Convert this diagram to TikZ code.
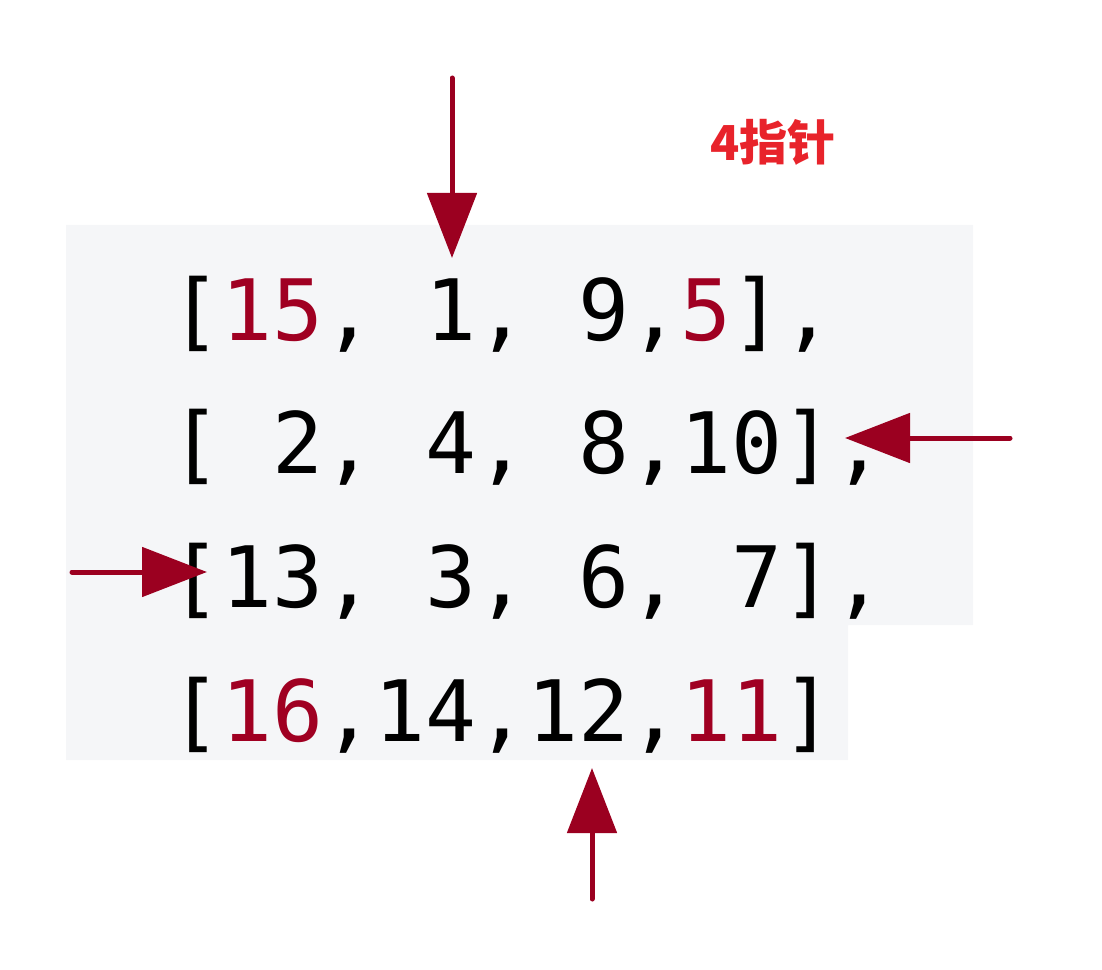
\documentclass[tikz,border=0pt]{standalone}
\usepackage{fontspec}
\usepackage[HTML]{xcolor}
\usepackage{tikz}
\usetikzlibrary{positioning, arrows, arrows.meta}
\newfontfamily\codefont{DejaVu Sans Mono}
\newfontfamily\cjk{Noto Sans CJK SC}
\definecolor{ptr}{HTML}{9B0020}
\definecolor{hl}{HTML}{A00022}
\definecolor{tag}{HTML}{E8232B}
\definecolor{codebg}{HTML}{F5F6F8}

\begin{document}
\begin{tikzpicture}[scale=1.0,
  row/.style={anchor=base west, inner sep=0pt, font=\codefont\fontsize{24.1}{29}\selectfont},
  ptrarrow/.style={-{Triangle[length=0.65cm,width=0.49cm]}, line width=0.05cm, line cap=round, color=ptr}]
\useasboundingbox (0,0) rectangle (11.02,9.69);
\fill[codebg] (0.66,7.44) -- (9.73,7.44) -- (9.73,3.44) -- (8.48,3.44) -- (8.48,2.09) -- (0.66,2.09) -- cycle;

\node[row] (r1) at (1.695,6.29) {[\textcolor{hl}{15}, 1, 9,\textcolor{hl}{5}],};
\node[row] (r2) at (1.695,4.95) {[ 2, 4, 8,10],};
\node[row] (r3) at (1.695,3.62) {[13, 3, 6, 7],};
\node[row] (r4) at (1.695,2.28) {[\textcolor{hl}{16},14,12,\textcolor{hl}{11}]};

\node[inner sep=0pt, text=tag, font=\cjk\bfseries\fontsize{13.7}{16}\selectfont] (title) at (7.73,8.27) {4指针};

\coordinate (top) at (4.52,8.91);   \coordinate (topend) at (4.52,7.11);
\coordinate (right) at (10.10,5.31); \coordinate (rightend) at (8.45,5.31);
\coordinate (left) at (0.72,3.97);  \coordinate (leftend) at (2.07,3.97);
\coordinate (bot) at (5.92,0.70);   \coordinate (botend) at (5.92,2.01);

\draw[ptrarrow] (top)--(topend);
\draw[ptrarrow] (right)--(rightend);
\draw[ptrarrow] (left)--(leftend);
\draw[ptrarrow] (bot)--(botend);
\end{tikzpicture}
\end{document}
